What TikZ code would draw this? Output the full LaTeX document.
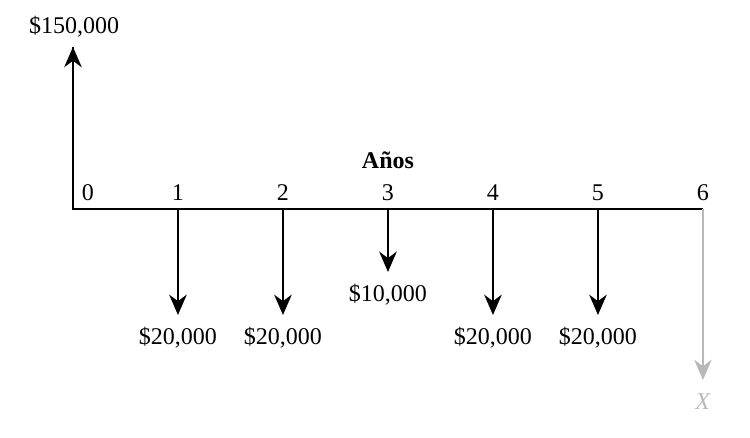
\documentclass[tikz,border=0pt]{standalone}
\usepackage{fontspec}
\setmainfont{Liberation Serif}
\usetikzlibrary{arrows.meta}
\begin{document}
\begin{tikzpicture}[x=2cm, y=2cm, >={Stealth[length=11pt,width=9.5pt,inset=3.5pt]},
    line width=1.3pt, font=\fontsize{13}{15}\selectfont]
    \useasboundingbox (-0.695, -2.181) rectangle (6.448, 1.990);
    \coordinate (t0) at (0, 0);
    \coordinate (t6) at (6, 0);
    \coordinate (u0) at (0, 1.543);
    \coordinate (x6) at (6, -1.629);
    \draw (u0) -- (t0) -- (t6);
    \draw[->] (t0) -- (u0);
    \node (p0) at (0.01, 1.733) {\$150,000};
    \node (n0) at (0.143, 0.152) {0};
    \foreach \i in {1,...,6}
      \node (n\i) at (\i, 0.152) {\i};
    \node (anos) at (3, 0.467) {\bfseries Años};
    \foreach \i/\tip/\amt in {1/-1.01/{20,000}, 2/-1.01/{20,000}, 3/-0.6/{10,000},
                              4/-1.01/{20,000}, 5/-1.01/{20,000}} {
      \coordinate (c\i) at (\i, 0);
      \coordinate (e\i) at (\i, \tip);
      \draw[->] (c\i) -- (e\i);
      \node (m\i) at (\i, \tip-0.22) {\$\amt};
    }
    \draw[->, gray!55, line width=1pt] (t6) -- (x6);
    \node[gray!55] (xl) at (6, -1.838) {\textit{X}};
\end{tikzpicture}
\end{document}
